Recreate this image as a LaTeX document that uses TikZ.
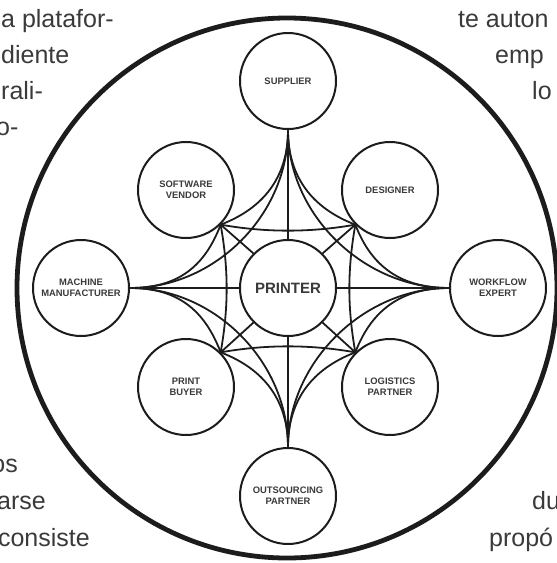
\documentclass[tikz,border=0pt]{standalone}
\usepackage{fontspec}
\setmainfont{Liberation Sans}
\definecolor{ink}{HTML}{1C1C1C}
\definecolor{txt}{HTML}{3A3A3A}
\begin{document}
\begin{tikzpicture}[x=1pt,y=-1pt,
  actor/.style={circle,draw=ink,line width=2pt,minimum size=96pt,inner sep=0pt,fill=white,
    font=\fontsize{9.4}{10.8}\selectfont\bfseries,text=txt,align=center},
  hub/.style={actor,font=\fontsize{15}{17}\selectfont\bfseries},
  link/.style={draw=ink,line width=1.8pt},
  ring/.style={draw=ink,line width=4.8pt},
  pagetext/.style={font=\fontsize{25}{29}\selectfont,text=txt,inner sep=0pt}]
\useasboundingbox (0,0) rectangle (557,563);
\clip (0,0) rectangle (557,563);
% page text around the figure
\node[pagetext,anchor=base west] (t1) at (1,27) {a platafor-};
\node[pagetext,anchor=base west] (t2) at (1,63) {diente};
\node[pagetext,anchor=base west] (t3) at (1,99) {rali-};
\node[pagetext,anchor=base west] (t4) at (-4,135) {o-};
\node[pagetext,anchor=base east] (t5) at (18,472) {os};
\node[pagetext,anchor=base east] (t6) at (46,509) {arse};
\node[pagetext,anchor=base east] (t7) at (90,546) {consiste};
\node[pagetext,anchor=base west] (t8) at (458,27) {te auton};
\node[pagetext,anchor=base west] (t9) at (495,63) {emp};
\node[pagetext,anchor=base west] (t10) at (532,99) {lo};
\node[pagetext,anchor=base west] (t11) at (532,509) {du};
\node[pagetext,anchor=base west] (t12) at (489,546) {propó};
% outer ring
\draw[ring] (287,288) circle[radius=270];
% nodes
\node[hub] (P) at (288,288) {PRINTER};
\node[actor] (N) at (288,81) {SUPPLIER};
\node[actor] (S) at (288,496) {OUTSOURCING\\PARTNER};
\node[actor] (W) at (81,288) {MACHINE\\MANUFACTURER};
\node[actor] (E) at (498,288) {WORKFLOW\\EXPERT};
\node[actor] (NW) at (186,190) {SOFTWARE\\VENDOR};
\node[actor] (NE) at (390,190) {DESIGNER};
\node[actor] (SW) at (186,387) {PRINT\\BUYER};
\node[actor] (SE) at (390,387) {LOGISTICS\\PARTNER};
% spokes
\draw[link] (N.south) -- (P.north);
\draw[link] (S.north) -- (P.south);
\draw[link] (W.east) -- (P.west);
\draw[link] (E.west) -- (P.east);
\draw[link] (NW.-45) -- (P.135);
\draw[link] (NE.-135) -- (P.45);
\draw[link] (SW.45) -- (P.-135);
\draw[link] (SE.135) -- (P.-45);
% axis to axis
\draw[link] (N.south) .. controls +(0,85) and +(85,0) .. (W.east);
\draw[link] (N.south) .. controls +(0,85) and +(-85,0) .. (E.west);
\draw[link] (S.north) .. controls +(0,-85) and +(85,0) .. (W.east);
\draw[link] (S.north) .. controls +(0,-85) and +(-85,0) .. (E.west);
% axis to diagonal
\draw[link] (N.south) .. controls +(0,48) and +(42,-16) .. (NW.-45);
\draw[link] (N.south) .. controls +(0,48) and +(-42,-16) .. (NE.-135);
\draw[link] (S.north) .. controls +(0,-48) and +(42,16) .. (SW.45);
\draw[link] (S.north) .. controls +(0,-48) and +(-42,16) .. (SE.135);
\draw[link] (W.east) .. controls +(48,0) and +(-16,42) .. (NW.-45);
\draw[link] (W.east) .. controls +(48,0) and +(-16,-42) .. (SW.45);
\draw[link] (E.west) .. controls +(-48,0) and +(16,42) .. (NE.-135);
\draw[link] (E.west) .. controls +(-48,0) and +(16,-42) .. (SE.135);
% diagonal to diagonal
\draw[link] (NW.-45) .. controls +(45,8) and +(-45,8) .. (NE.-135);
\draw[link] (SW.45) .. controls +(45,-8) and +(-45,-8) .. (SE.135);
\draw[link] (NW.-45) .. controls +(8,45) and +(8,-45) .. (SW.45);
\draw[link] (NE.-135) .. controls +(-8,45) and +(-8,-45) .. (SE.135);
\end{tikzpicture}
\end{document}
